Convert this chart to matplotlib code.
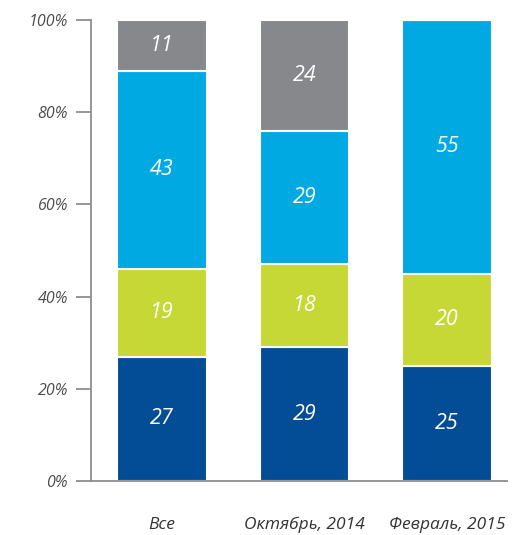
import matplotlib
matplotlib.use("Agg")
import matplotlib.pyplot as plt
import numpy as np

categories = ["Все", "Октябрь, 2014", "Февраль, 2015"]
seg_dark = [27, 29, 25]
seg_lime = [19, 18, 20]
seg_light = [43, 29, 55]
seg_gray = [11, 24, 0]
yticks = [0, 20, 40, 60, 80, 100]
ytick_labels = ["0%", "20%", "40%", "60%", "80%", "100%"]

colors = ["#034d96", "#c5d836", "#00a9e2", "#87888b"]
series = [seg_dark, seg_lime, seg_light, seg_gray]

plt.rcParams['font.family'] = ['Open Sans', 'DejaVu Sans']

fig = plt.figure(figsize=(5.18, 5.35), dpi=100)
ax = fig.add_axes([91/518, 1-481/535, (507-91)/518, (481-20)/535])

x = np.arange(len(categories))
bottom = np.zeros(len(categories))
for vals, c in zip(series, colors):
    vals = np.array(vals, dtype=float)
    ax.bar(x, vals, bottom=bottom, width=0.63, color=c, edgecolor="white", linewidth=1.5, zorder=2)
    for xi, v, b in zip(x, vals, bottom):
        if v > 0:
            ax.text(xi, b + v/2, f"{int(v)}", ha="center", va="center", color="white",
                    fontsize=15.5, style="italic", zorder=3)
    bottom += vals

ax.set_xlim(-0.498, 2.42)
ax.set_ylim(0, 100)
ax.spines["left"].set_position(("outward", 0))
ax.tick_params(axis="y", length=10.5, width=1.3, color="#8c8d8f", pad=6)
ax.tick_params(axis="x", length=0, pad=26)
ax.set_yticks(yticks)
ax.set_yticklabels(ytick_labels, fontsize=11.5, style="italic", color="#4d4d4f")
ax.set_xticks(x)
ax.set_xticklabels(categories, fontsize=12.5, style="italic", color="#333333")
for s in ["top", "right"]:
    ax.spines[s].set_visible(False)
for s in ["left", "bottom"]:
    ax.spines[s].set_color("#8c8d8f")
    ax.spines[s].set_linewidth(1.3)

fig.savefig("out.png", dpi=100)
